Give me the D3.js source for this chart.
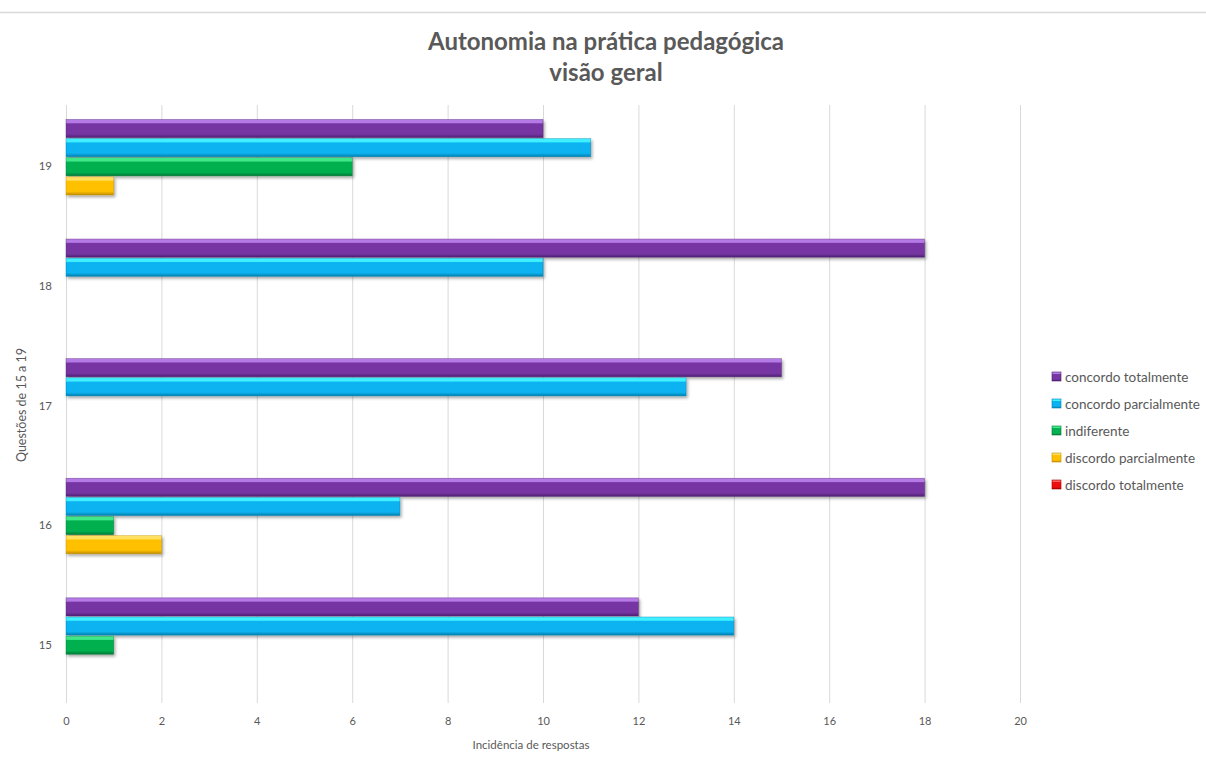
<!DOCTYPE html>
<html><head><meta charset="utf-8">
<script src="https://cdn.jsdelivr.net/npm/d3@7"></script>
<style>body{margin:0;background:#fff;}svg{display:block;font-family:Lato,"Open Sans",sans-serif;}</style>
</head><body>
<script>
const categories = ["19","18","17","16","15"];
const seriesNames = ["concordo totalmente","concordo parcialmente","indiferente","discordo parcialmente","discordo totalmente"];
const concordoTotalmente   = [10,18,15,18,12];
const concordoParcialmente = [11,10,13,7,14];
const indiferente          = [6,0,0,1,1];
const discordoParcialmente = [1,0,0,2,0];
const discordoTotalmente   = [0,0,0,0,0];
const xTicks = [0,2,4,6,8,10,12,14,16,18,20];
const seriesValues = [concordoTotalmente,concordoParcialmente,indiferente,discordoParcialmente,discordoTotalmente];
const colors = [
  {light:"#b67ae6", main:"#7636a3", dark:"#4f1f73"},
  {light:"#3ff0ff", main:"#08b2f0", dark:"#0580b0"},
  {light:"#3fe88a", main:"#05b050", dark:"#037a36"},
  {light:"#ffe060", main:"#ffc000", dark:"#c08e00"},
  {light:"#ff6060", main:"#ee1010", dark:"#a00000"}
];

const W=1206,H=765;
const svg=d3.select("body").append("svg").attr("width",W).attr("height",H);
const defs=svg.append("defs");
colors.forEach((c,i)=>{
  const g=defs.append("linearGradient").attr("id","g"+i).attr("x1",0).attr("y1",0).attr("x2",0).attr("y2",1);
  g.append("stop").attr("offset","0%").attr("stop-color",c.light);
  g.append("stop").attr("offset","18%").attr("stop-color",c.light);
  g.append("stop").attr("offset","24%").attr("stop-color",c.main);
  g.append("stop").attr("offset","80%").attr("stop-color",c.main);
  g.append("stop").attr("offset","100%").attr("stop-color",c.dark);
});
const f=defs.append("filter").attr("id","sh").attr("x","-5%").attr("y","-30%").attr("width","115%").attr("height","180%");
f.append("feDropShadow").attr("dx",1.5).attr("dy",2).attr("stdDeviation",1.5).attr("flood-color","#000").attr("flood-opacity",0.35);

// top border line
svg.append("line").attr("x1",0).attr("x2",W).attr("y1",12.5).attr("y2",12.5).attr("stroke","#d9d9d9").attr("stroke-width",1.5);

const x=d3.scaleLinear().domain([0,20]).range([66,1020]);
const y=d3.scaleBand().domain(categories).range([107,705]).paddingInner(0.2).paddingOuter(0.1);
const ySub=d3.scaleBand().domain(d3.range(5)).range([0,y.bandwidth()]);

// gridlines
svg.append("g").selectAll("line").data(xTicks).join("line")
  .attr("x1",d=>x(d)+0.5).attr("x2",d=>x(d)+0.5).attr("y1",105).attr("y2",703)
  .attr("stroke","#d9d9d9").attr("stroke-width",1);

// x tick labels
const xa=svg.append("g").attr("transform","translate(0,703)")
  .call(d3.axisBottom(x).tickValues(xTicks).tickSize(0).tickPadding(14).tickFormat(d3.format("d")));
xa.select(".domain").remove();
xa.selectAll("text").attr("fill","#595959").style("font-size","11px").style("font-family","Lato,sans-serif");

// y tick labels
const ya=svg.append("g").attr("transform","translate(66,0)")
  .call(d3.axisLeft(y).tickSize(0).tickPadding(14));
ya.select(".domain").remove();
ya.selectAll("text").attr("fill","#595959").style("font-size","11.5px").style("font-family","Lato,sans-serif");

// bars
categories.forEach((cat,ci)=>{
  seriesValues.forEach((vals,si)=>{
    const v=vals[ci];
    if(v<=0) return;
    svg.append("rect")
      .attr("x",x(0)).attr("y",y(cat)+ySub(si)+0.5)
      .attr("width",x(v)-x(0)).attr("height",ySub.bandwidth()-1)
      .attr("fill","url(#g"+si+")")
      .attr("stroke",colors[si].dark).attr("stroke-width",0.6).attr("stroke-opacity",0.6)
      .attr("filter","url(#sh)");
  });
});

// title
const t=svg.append("text").attr("x",606).attr("text-anchor","middle").attr("fill","#595959")
  .style("font-size","24px").style("font-weight","bold");
t.append("tspan").attr("x",606).attr("y",50).text("Autonomia na prática pedagógica");
t.append("tspan").attr("x",606).attr("y",81).text("visão geral");

// axis titles
svg.append("text").attr("x",531).attr("y",749).attr("text-anchor","middle").attr("fill","#595959")
  .style("font-size","11.5px").text("Incidência de respostas");
svg.append("text").attr("transform","translate(26,405) rotate(-90)").attr("text-anchor","middle").attr("fill","#595959")
  .style("font-size","12.5px").text("Questões de 15 a 19");

// legend
const lg=svg.append("g");
seriesNames.forEach((n,i)=>{
  const ly=377+i*27;
  lg.append("rect").attr("x",1052).attr("y",ly-5).attr("width",9).attr("height",9)
    .attr("fill","url(#g"+i+")").attr("stroke",colors[i].dark).attr("stroke-width",0.6);
  lg.append("text").attr("x",1065).attr("y",ly+4.5).attr("fill","#595959").style("font-size","13.5px").text(n);
});
</script>
</body></html>
